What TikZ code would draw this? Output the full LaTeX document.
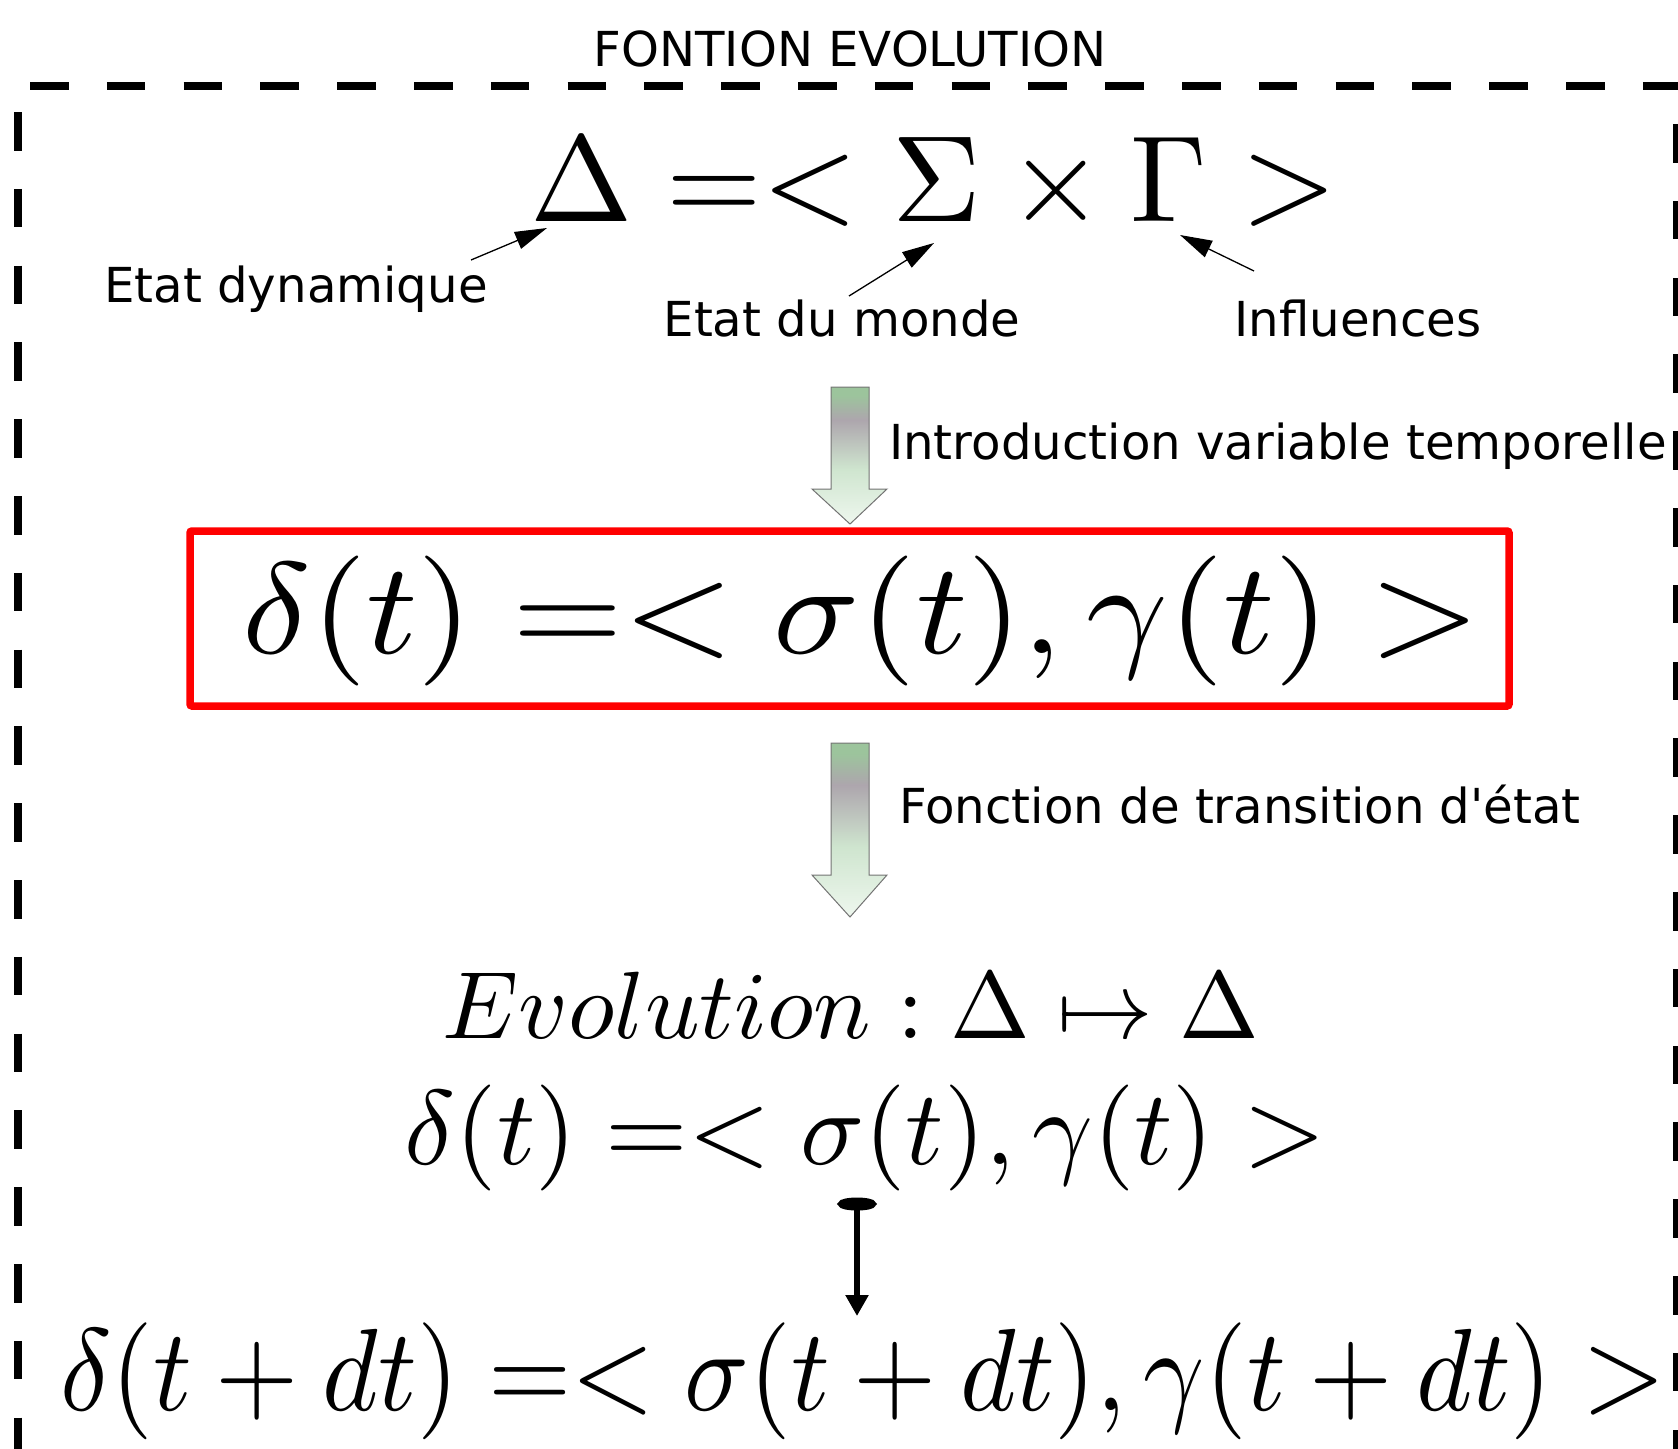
\documentclass[tikz,border=0pt]{standalone}
\usepackage[no-math]{fontspec}
\usepackage{graphicx}
\newfontfamily\labelfont{DejaVu Sans}
\usetikzlibrary{arrows.meta}
\definecolor{agreen}{HTML}{9CC49C}
\definecolor{agray}{HTML}{ADA6AD}
\definecolor{amid}{HTML}{CFE5CF}
\definecolor{alight}{HTML}{EEF7EE}
\pgfdeclareverticalshading{greenfade}{100bp}{color(0bp)=(alight); color(25bp)=(alight); color(45bp)=(amid); color(63bp)=(agray); color(72bp)=(agreen); color(100bp)=(agreen)}
\tikzset{
  frameline/.style={line width=8pt, dash pattern=on 38.5pt off 38.3pt},
  lbl/.style={font=\labelfont\fontsize{48.2}{58}\selectfont, inner sep=0pt},
  formula/.style={inner sep=0pt, anchor=base},
  lblarrow/.style={line width=1.3pt, -{Triangle[length=32pt,width=18pt]}},
  greenarrow/.style={shading=greenfade, draw=black!55, line width=1pt, line join=miter},
  redbox/.style={draw=red, line width=7.5pt, rounded corners=2pt, inner sep=0pt}
}
\begin{document}
\begin{tikzpicture}[x=1pt,y=-1pt]
\useasboundingbox (0,0) rectangle (1678,1448);
% frame
\draw[frameline] (30,85.5) -- (1690,85.5);
\draw[frameline] (18,112) -- (18,1460);
\draw[frameline] (1677,124) -- (1677,1460);
% title
\node[lbl, anchor=base] (title) at (850,66) {FONTION EVOLUTION};
% formula 1
\node[formula] (f1) at (934,221.5) {\scalebox{12.28}{$\Delta =< \Sigma \times \Gamma >$}};
% labels
\node[lbl, anchor=base] (edyn) at (296,302) {Etat dynamique};
\node[lbl, anchor=base] (emonde) at (842,336.5) {Etat du monde};
\node[lbl, anchor=base] (infl) at (1358,336.5) {Influences};
\coordinate (edyn-t) at (471,260);
\coordinate (edyn-h) at (547,228);
\coordinate (emonde-t) at (849,296);
\coordinate (emonde-h) at (934,243);
\coordinate (infl-t) at (1254,271);
\coordinate (infl-h) at (1180,235);
\draw[lblarrow] (edyn-t) -- (edyn-h);
\draw[lblarrow] (emonde-t) -- (emonde-h);
\draw[lblarrow] (infl-t) -- (infl-h);
% green arrow 1
\path[greenarrow] (831,387) -- (869,387) -- (869,489) -- (887,489) -- (850,524) -- (812,489) -- (831,489) -- cycle;
\node[lbl, anchor=base west] (intro) at (889,459.5) {Introduction variable temporelle};
% red box + formula 2
\node[redbox, minimum width=1319pt, minimum height=175pt] (box) at (849.5,618.5) {};
\node[formula] (f2) at (861.5,653) {\scalebox{14.25}[13.0]{$\delta(t) =< \sigma(t), \gamma(t) >$}};
% green arrow 2
\path[greenarrow] (831,743) -- (869,743) -- (869,875) -- (887,875) -- (850,917) -- (812,875) -- (831,875) -- cycle;
\node[lbl, anchor=base west] (trans) at (899,823) {Fonction de transition d'état};
% formulas 3, 4
\node[formula] (f3) at (851,1038) {\scalebox{9.56}{$Evolution : \Delta \mapsto \Delta$}};
\node[formula] (f4) at (865.3,1164) {\scalebox{10.6}{$\delta(t) =< \sigma(t), \gamma(t) >$}};
% maps-to arrow
\coordinate (mt-top) at (857,1197.5);
\coordinate (mt-bot) at (857,1316);
\draw[line width=6pt, {Ellipse[length=13pt,width=38pt]}-{Triangle[length=21pt,width=22pt]}] (mt-top) -- (mt-bot);
% formula 5
\node[formula] (f5) at (862.7,1410) {\scalebox{10.7}[11.7]{$\delta(t+dt) =< \sigma(t+dt), \gamma(t+dt) >$}};
\end{tikzpicture}
\end{document}
